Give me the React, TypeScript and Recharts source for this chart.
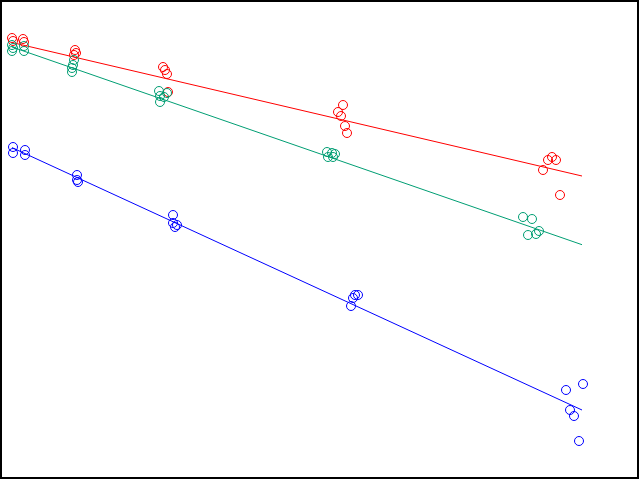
import { ScatterChart, Scatter, XAxis, YAxis } from 'recharts'

// observations: time (x) and response (y), one array per group
const redX = [12, 13, 23, 24, 75, 76, 74, 163, 165, 167, 168, 343, 338, 341, 345, 347, 548, 552, 556, 543, 560]
const redY = [442, 439, 441, 438, 430, 427, 425, 413, 410, 406, 388, 375, 368, 364, 354, 347, 320, 323, 320, 310, 285]

const greenX = [12, 12, 24, 24, 13, 74, 73, 72, 72, 159, 160, 160, 164, 167, 327, 332, 335, 328, 333, 523, 532, 528, 536, 539]
const greenY = [435, 429, 434, 429, 432, 420, 415, 412, 408, 389, 384, 378, 383, 387, 328, 327, 326, 323, 323, 263, 261, 245, 246, 249]

const blueX = [13, 13, 25, 25, 77, 77, 78, 173, 173, 175, 177, 355, 358, 353, 351, 566, 583, 570, 574, 579]
const blueY = [333, 327, 330, 325, 305, 300, 298, 265, 257, 253, 255, 185, 185, 182, 174, 90, 96, 70, 64, 39]

// fitted regression lines, evaluated at the ends of the time range
const fitX = [12, 582]
const redFit = [437.5, 304]
const greenFit = [433, 235.3]
const blueFit = [332.4, 70]

const toPoints = (xs: number[], ys: number[]) => xs.map((x, i) => ({ x, y: ys[i] }))

const ring = (color: string) => (props: any) => {
  const { cx, cy } = props
  return <circle cx={cx} cy={cy} r={4.5} fill="none" stroke={color} strokeWidth={1} />
}

const noDot = () => <g />

export default function App() {
  return (
    <div style={{ position: 'fixed', top: 0, left: 0, width: 640, height: 480, background: '#fff' }}>
      <ScatterChart width={640} height={480} margin={{ top: 0, right: 0, bottom: 0, left: 0 }}>
        <XAxis type="number" dataKey="x" domain={[0, 640]} hide />
        <YAxis type="number" dataKey="y" domain={[0, 480]} hide />
        <Scatter data={toPoints(fitX, redFit)} line={{ stroke: '#FF0000', strokeWidth: 1 }} shape={noDot} isAnimationActive={false} />
        <Scatter data={toPoints(fitX, greenFit)} line={{ stroke: '#009E73', strokeWidth: 1 }} shape={noDot} isAnimationActive={false} />
        <Scatter data={toPoints(fitX, blueFit)} line={{ stroke: '#0000FF', strokeWidth: 1 }} shape={noDot} isAnimationActive={false} />
        <Scatter data={toPoints(redX, redY)} shape={ring('#FF0000')} isAnimationActive={false} />
        <Scatter data={toPoints(greenX, greenY)} shape={ring('#009E73')} isAnimationActive={false} />
        <Scatter data={toPoints(blueX, blueY)} shape={ring('#0000FF')} isAnimationActive={false} />
      </ScatterChart>
      <div
        style={{
          position: 'absolute',
          top: 0,
          left: 0,
          width: 639,
          height: 479,
          boxSizing: 'border-box',
          border: '2px solid #000',
          pointerEvents: 'none',
        }}
      />
    </div>
  )
}
